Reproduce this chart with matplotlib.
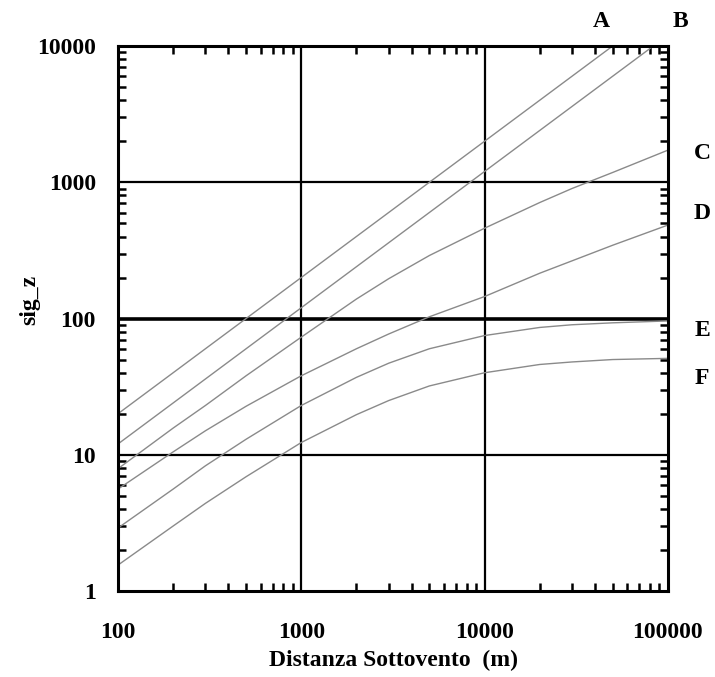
import matplotlib
matplotlib.use("Agg")
import matplotlib.pyplot as plt
from matplotlib.ticker import LogLocator, NullFormatter, FixedLocator, FixedFormatter

# Downwind distance (m) at which sigma_z is read
distance = [100, 200, 300, 500, 1000, 2000, 3000, 5000, 10000, 20000, 30000, 50000, 100000]

# Vertical dispersion coefficient sigma_z (m) per stability class
sig_a = [20, 40, 60, 100, 200, 400, 600, 1000, 2000, 4000, 6000, 10000, 20000]
sig_b = [12, 24, 36, 60, 120, 240, 360, 600, 1200, 2400, 3600, 6000, 12000]
sig_c = [7.9, 15.7, 23, 38, 73, 139, 196, 290, 460, 710, 900, 1180, 1720]
sig_d = [5.6, 10.5, 15, 22.7, 38, 60, 77, 103, 145, 215, 265, 345, 485]
sig_e = [2.9, 5.6, 8.3, 13, 23, 37, 47, 60, 75, 86, 90, 93, 96]
sig_f = [1.55, 3.0, 4.4, 6.9, 12.3, 19.7, 25, 32, 40, 46, 48, 50, 51]

classes = ["A", "B", "C", "D", "E", "F"]
series = [sig_a, sig_b, sig_c, sig_d, sig_e, sig_f]

x_ticks = [100, 1000, 10000, 100000]
x_tick_labels = ["100", "1000", "10000", "100000"]
y_ticks = [1, 10, 100, 1000, 10000]
y_tick_labels = ["1", "10", "100", "1000", "10000"]

serif = ["Liberation Serif", "DejaVu Serif"]

fig = plt.figure(figsize=(7.15, 6.77), dpi=100)
ax = fig.add_axes([0.165, 0.127, 0.769, 0.805])

for vals in series:
    ax.plot(distance, vals, color="#8a8a8a", lw=1.0, solid_capstyle="butt")

ax.set_xscale("log")
ax.set_yscale("log")
ax.set_xlim(100, 100000)
ax.set_ylim(1, 10000)

# decade grid
for xv in x_ticks[1:-1]:
    ax.axvline(xv, color="black", lw=1.6, zorder=1)
for yv in y_ticks[1:-1]:
    ax.axhline(yv, color="black", lw=2.6 if yv == 100 else 1.6, zorder=1)

ax.xaxis.set_major_locator(FixedLocator(x_ticks))
ax.xaxis.set_major_formatter(FixedFormatter(x_tick_labels))
ax.yaxis.set_major_locator(FixedLocator(y_ticks))
ax.yaxis.set_major_formatter(FixedFormatter(y_tick_labels))
ax.xaxis.set_minor_locator(LogLocator(base=10, subs=range(2, 10), numticks=20))
ax.yaxis.set_minor_locator(LogLocator(base=10, subs=range(2, 10), numticks=20))
ax.xaxis.set_minor_formatter(NullFormatter())
ax.yaxis.set_minor_formatter(NullFormatter())

ax.tick_params(which="both", direction="in", top=True, right=True, color="black")
ax.tick_params(which="major", length=0, width=0)
ax.tick_params(which="minor", length=6, width=1.8)
ax.tick_params(axis="x", which="major", pad=22)
ax.tick_params(axis="y", which="major", pad=16)

for lab in ax.get_xticklabels() + ax.get_yticklabels():
    lab.set_fontfamily(serif)
    lab.set_fontweight("bold")
    lab.set_fontsize(17)

for sp in ax.spines.values():
    sp.set_linewidth(2.2)
    sp.set_color("black")

fig.text(0.55, 0.025, "Distanza Sottovento  (m)", fontfamily=serif, fontweight="bold",
         fontsize=17, ha="center", va="center")
fig.text(0.042, 0.557, "sig_z", fontfamily=serif, fontweight="bold", fontsize=17,
         rotation=90, ha="center", va="center")

# class labels
label_pos = {
    "A": (0.841, 0.968),
    "B": (0.951, 0.968),
    "C": (0.982, 0.773),
    "D": (0.982, 0.684),
    "E": (0.982, 0.512),
    "F": (0.982, 0.441),
}
for name in classes:
    px, py = label_pos[name]
    fig.text(px, py, name, fontfamily=serif, fontweight="bold", fontsize=17,
             ha="center", va="center")

fig.savefig("out.png", dpi=100, facecolor="white")
